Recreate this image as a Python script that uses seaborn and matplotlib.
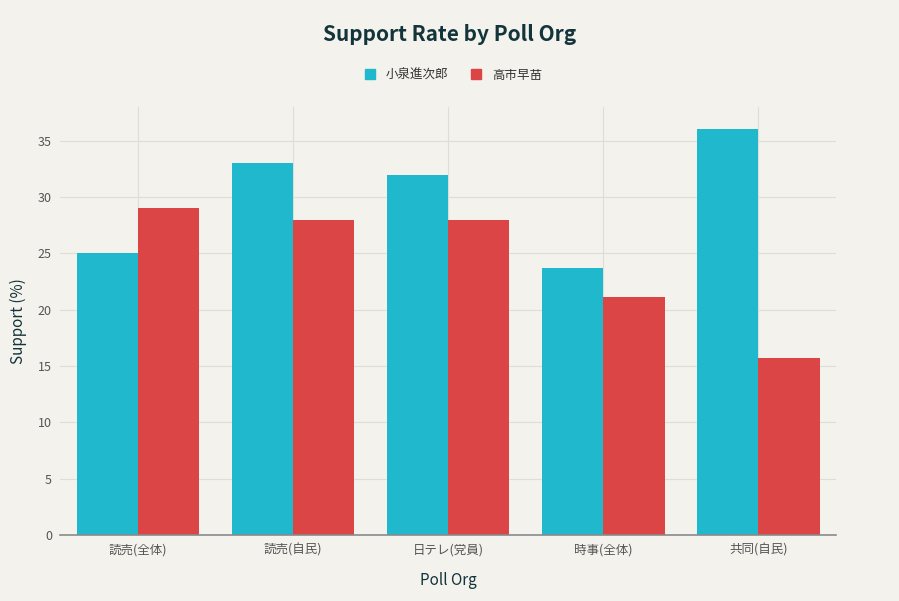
import pandas as pd
import matplotlib.pyplot as plt
import seaborn as sns

# datos
orgs = ['読売(全体)', '読売(自民)', '日テレ(党員)', '時事(全体)', '共同(自民)']
koizumi = [25, 33, 32, 23.7, 36]
takaichi = [29, 28, 28, 21.1, 15.7]
candidatos = ['小泉進次郎', '高市早苗']
colores = ['#1FB8CD', '#DB4545']

df = pd.DataFrame({
    'Poll Org': orgs * 2,
    'Support': koizumi + takaichi,
    'Candidate': [candidatos[0]] * len(orgs) + [candidatos[1]] * len(orgs),
})

sns.set_theme(style="whitegrid")
plt.rcParams['font.family'] = ['Noto Sans CJK JP', 'DejaVu Sans']

bg = '#F3F2EC'
fig = plt.figure(figsize=(8.99, 6.01), dpi=100, facecolor=bg)
ax = fig.add_axes([0.067, 0.11, 0.863, 0.712])
ax.set_facecolor(bg)

sns.barplot(data=df, x='Poll Org', y='Support', hue='Candidate',
            palette=colores, width=0.79, saturation=1, ax=ax, legend=False,
            linewidth=0, edgecolor='none')

ax.set_ylim(0, 38)
ax.set_xlim(-0.5, 4.5)
ax.set_yticks(range(0, 36, 5))
ax.grid(True, color='#DEDDD8', linewidth=0.8)
ax.set_axisbelow(True)
for s in ['top', 'right', 'left']:
    ax.spines[s].set_visible(False)
ax.spines['bottom'].set_color('#8A8A8A')
ax.spines['bottom'].set_linewidth(1.2)
ax.tick_params(axis='both', length=0, labelsize=9, colors='#555555', pad=6)

ax.set_xlabel('Poll Org', fontsize=11, color='#13343B', labelpad=11)
ax.set_ylabel('Support (%)', fontsize=11, color='#13343B', labelpad=8)

fig.text(0.5, 0.942, 'Support Rate by Poll Org', ha='center', va='center',
         fontsize=15, color='#13343B', fontweight='semibold')

handles = [plt.Line2D([], [], marker='s', linestyle='', color=c, markersize=7)
           for c in colores]
fig.legend(handles, candidatos, loc='center', bbox_to_anchor=(0.5, 0.875),
           ncol=2, frameon=False, fontsize=9, handletextpad=0.3,
           columnspacing=1.2, labelcolor='#333333')

plt.savefig('out.png', dpi=100, facecolor=bg)
plt.close()
